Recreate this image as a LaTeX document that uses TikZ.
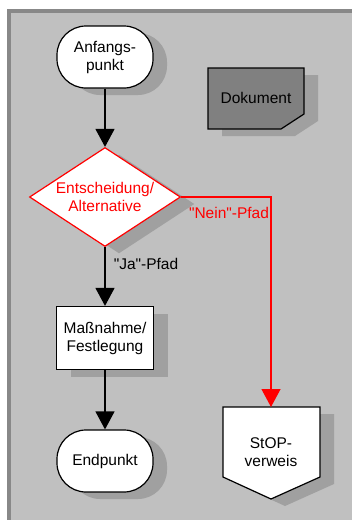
\documentclass[tikz,border=0pt]{standalone}
\usepackage{fontspec}
\setmainfont{Liberation Sans}[Ligatures=TeXOff]
\usetikzlibrary{arrows.meta, shapes.geometric, shadows}
\definecolor{hintergrund}{HTML}{C0C0C0}
\definecolor{rahmen}{HTML}{888888}
\definecolor{schattengrau}{HTML}{A0A0A0}
\definecolor{dunkelgrau}{HTML}{808080}

\begin{document}
\begin{tikzpicture}[x=1pt, y=-1pt, font=\fontsize{15.5}{18}\selectfont, line width=1.2pt, line join=miter,
	every node/.style={align=center, inner sep=0pt},
	schatten/.style={drop shadow={shadow xshift=14pt, shadow yshift=-7pt, fill=schattengrau, opacity=1}},
	terminal/.style={draw, fill=white, rounded corners=29pt, minimum width=96pt, minimum height=62pt, schatten},
	massnahme/.style={draw, fill=white, minimum width=97pt, minimum height=63pt, schatten},
	entscheidung/.style={draw=red, fill=white, text=red, diamond, aspect=1.525, minimum width=151pt, minimum height=99pt, schatten},
	pfeil/.style={-{Triangle[width=19pt, length=18pt]}}]

	% Rahmen
	\useasboundingbox (0,0) rectangle (352,520);
	\fill[rahmen] (7,9) rectangle (352,520);
	\fill[hintergrund] (11,13) rectangle (352,520);

	% Ablauf
	\node[terminal] (anfang) at (105,57) {Anfangs-\\punkt};
	\node[entscheidung] (entsch) at (105,197) {Entscheidung/\\Alternative};
	\node[massnahme] (massn) at (105,338) {Maßnahme/\\Festlegung};
	\node[terminal] (ende) at (105,461) {Endpunkt};

	% Dokument
	\draw[fill=dunkelgrau, schatten] (208,68) -- (304,68) -- (304,114) -- (281,129) -- (208,129) -- cycle;
	\node (dok) at (256,98) {Dokument};

	% StOP-Verweis
	\draw[fill=white, schatten] (223,407) -- (320,407) -- (320,477) -- (271,499) -- (223,477) -- cycle;
	\coordinate (stopoben) at (271,407);
	\node (stop) at (271,452) {StOP-\\verweis};

	% Pfeile
	\draw[pfeil] (anfang) -- (entsch);
	\draw[pfeil] (entsch) -- (massn);
	\draw[pfeil] (massn) -- (ende);
	\draw[pfeil, red] (entsch.east) -| (stopoben);
	\node (ja) at (146,264) {"Ja"-Pfad};
	\node[text=red] (nein) at (229,213) {"Nein"-Pfad};
\end{tikzpicture}
\end{document}
